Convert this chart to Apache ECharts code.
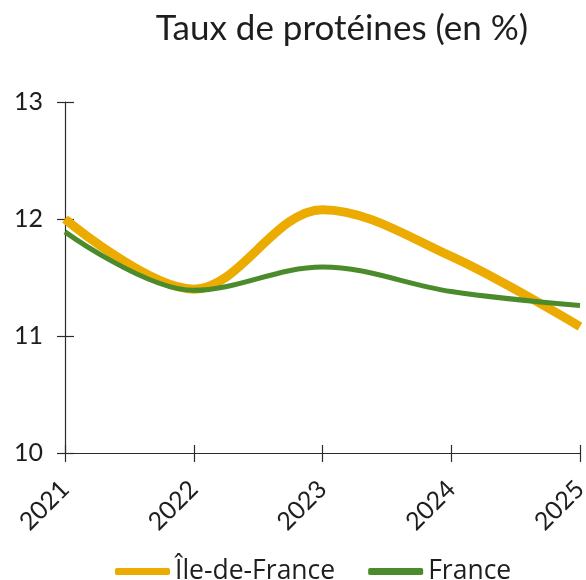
<!DOCTYPE html>
<html>
<head>
<meta charset="utf-8">
<script src="https://cdn.jsdelivr.net/npm/echarts@6/dist/echarts.min.js"></script>
<style>
  html, body { margin: 0; padding: 0; background: #fff; }
  #chart { width: 586px; height: 580px; }
</style>
</head>
<body>
<div id="chart"></div>
<script>
// années (axe des catégories)
const years = ['2021', '2022', '2023', '2024', '2025']
// taux de protéines en %
const ileDeFrance = [12.0, 11.4, 12.08, 11.68, 11.08]
const france = [11.89, 11.39, 11.59, 11.38, 11.26]
// graduations de l'axe vertical
const yMin = 10
const yMax = 13
const yStep = 1

const fontFamily = 'Lato, "Open Sans", sans-serif'
const textColor = '#1e1e1e'
const axisColor = '#2b2b2b'

const chart = echarts.init(document.getElementById('chart'))

const option = {
  animation: false,
  title: {
    text: 'Taux de protéines (en %)',
    left: 337,
    top: 6,
    textAlign: 'center',
    textStyle: { fontFamily, fontSize: 35, fontWeight: 'normal', color: textColor }
  },
  grid: { left: 65, right: 6, top: 102, bottom: 127, containLabel: false, outerBoundsMode: 'none' },
  legend: {
    top: 553,
    left: 110,
    itemWidth: 55,
    itemHeight: 7,
    itemGap: 33,
    icon: 'roundRect',
    textStyle: { fontFamily: '"Open Sans", sans-serif', fontSize: 26.5, color: textColor },
    data: ['Île-de-France', 'France']
  },
  xAxis: [
    {
      type: 'category',
      data: years,
      boundaryGap: false,
      axisLine: { lineStyle: { color: axisColor, width: 1.2 } },
      axisTick: { length: 9, lineStyle: { color: axisColor, width: 1.2 } },
      axisLabel: { rotate: 45, margin: 32, fontFamily, fontSize: 25, color: textColor }
    },
    {
      // petits traits au-dessus de l'axe
      type: 'category',
      data: years,
      boundaryGap: false,
      position: 'bottom',
      axisLine: { show: false },
      axisTick: { inside: true, length: 8, lineStyle: { color: axisColor, width: 1.2 } },
      axisLabel: { show: false }
    }
  ],
  yAxis: [
    {
      type: 'value',
      min: yMin,
      max: yMax,
      interval: yStep,
      splitLine: { show: false },
      axisLine: { show: true, lineStyle: { color: axisColor, width: 1.2 } },
      axisTick: { show: true, length: 8, lineStyle: { color: axisColor, width: 1.2 } },
      axisLabel: { margin: 22, fontFamily, fontSize: 25, color: textColor }
    },
    {
      // petits traits à droite de l'axe
      type: 'value',
      min: yMin,
      max: yMax,
      interval: yStep,
      position: 'left',
      splitLine: { show: false },
      axisLine: { show: false },
      axisTick: { show: true, inside: true, length: 9, lineStyle: { color: axisColor, width: 1.2 } },
      axisLabel: { show: false }
    }
  ],
  series: [
    {
      name: 'Île-de-France',
      type: 'line',
      data: ileDeFrance,
      smooth: 0.35,
      symbol: 'none',
      z: 2,
      lineStyle: { color: '#ebab00', width: 9 },
      itemStyle: { color: '#ebab00' }
    },
    {
      name: 'France',
      type: 'line',
      data: france,
      smooth: 0.35,
      symbol: 'none',
      z: 3,
      lineStyle: { color: '#4b8b2b', width: 5 },
      itemStyle: { color: '#4b8b2b' }
    }
  ]
}

chart.setOption(option)
</script>
</body>
</html>
